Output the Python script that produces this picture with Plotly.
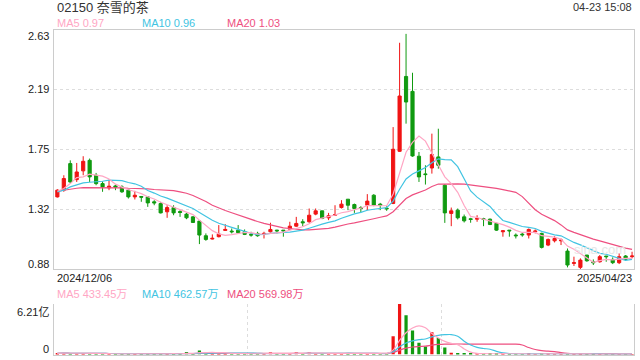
import numpy as np
import pandas as pd
import plotly.graph_objects as go

# ---------------- data ----------------
opens = [1.407,1.456,1.650,1.533,1.597,1.674,1.565,1.504,1.473,1.487,
         1.480,1.456,1.407,1.410,1.407,1.371,1.358,1.298,1.329,1.300,
         1.281,1.261,1.230,1.123,1.099,1.116,1.162,1.157,1.164,1.152,
         1.133,1.140,1.135,1.152,1.164,1.164,1.171,1.193,1.225,1.225,
         1.281,1.305,1.254,1.273,1.329,1.390,1.351,1.329,1.346,1.419,
         1.354,1.324,1.359,1.740,2.287,2.178,1.704,1.575,1.618,1.699,
         1.492,1.286,1.310,1.261,1.247,1.244,1.247,1.244,1.213,1.152,
         1.164,1.128,1.135,1.128,1.152,1.140,1.055,1.086,1.086,1.011,
         0.921,0.892,0.982,0.933,0.933,0.975,0.950,0.926,0.975,0.970]
highs = [1.463,1.565,1.674,1.655,1.704,1.687,1.582,1.521,1.533,1.497,
         1.492,1.461,1.451,1.412,1.412,1.383,1.371,1.346,1.346,1.310,
         1.290,1.266,1.230,1.140,1.133,1.201,1.208,1.176,1.201,1.169,
         1.152,1.152,1.152,1.218,1.166,1.164,1.225,1.261,1.244,1.322,
         1.322,1.305,1.290,1.346,1.383,1.390,1.358,1.339,1.427,1.427,
         1.363,1.339,1.917,2.533,2.598,2.314,1.735,1.638,1.869,1.905,
         1.500,1.329,1.322,1.278,1.254,1.273,1.254,1.249,1.218,1.164,
         1.164,1.140,1.145,1.176,1.169,1.145,1.103,1.120,1.103,1.030,
         0.970,0.958,0.982,0.950,0.982,0.975,0.965,0.994,0.982,1.006]
lows = [1.402,1.444,1.509,1.516,1.565,1.516,1.492,1.444,1.456,1.456,
        1.436,1.395,1.388,1.371,1.334,1.346,1.286,1.254,1.273,1.261,
        1.244,1.218,1.062,1.086,1.096,1.111,1.159,1.140,1.140,1.128,
        1.116,1.116,1.103,1.147,1.140,1.116,1.164,1.188,1.193,1.218,
        1.273,1.244,1.237,1.273,1.322,1.310,1.290,1.295,1.310,1.339,
        1.310,1.305,1.354,1.735,1.942,1.700,1.516,1.497,1.577,1.613,
        1.217,1.193,1.242,1.220,1.218,1.225,1.193,1.201,1.159,1.116,
        1.116,1.103,1.116,1.103,1.140,1.030,1.047,1.074,1.055,0.892,
        0.902,0.880,0.933,0.909,0.926,0.933,0.916,0.916,0.940,0.958]
closes = [1.456,1.541,1.516,1.589,1.667,1.553,1.504,1.480,1.485,1.478,
          1.444,1.407,1.419,1.405,1.363,1.363,1.290,1.329,1.290,1.293,
          1.254,1.220,1.128,1.096,1.104,1.135,1.169,1.152,1.145,1.133,
          1.128,1.123,1.140,1.169,1.159,1.159,1.193,1.213,1.218,1.273,
          1.305,1.249,1.269,1.278,1.354,1.346,1.322,1.322,1.376,1.346,
          1.346,1.320,1.755,2.144,2.100,1.706,1.553,1.570,1.716,1.638,
          1.290,1.305,1.254,1.232,1.242,1.249,1.242,1.205,1.164,1.159,
          1.159,1.123,1.130,1.169,1.157,1.038,1.096,1.103,1.091,0.909,
          0.926,0.945,0.940,0.926,0.970,0.970,0.926,0.970,0.950,0.975]
# volume in 万 (10k shares)
volumes_wan = [1500,1800,1300,1600,1400,1200,900,700,800,900,
               700,800,700,500,900,600,1300,1100,900,800,
               3000,1500,5000,1800,1400,1700,1200,600,900,1200,
               800,700,900,2500,600,700,1500,2800,900,2500,
               1300,1200,900,1500,1400,1800,1000,700,1700,1500,
               600,800,22300,62100,48300,29500,14400,9800,27400,20300,
               8500,2300,1800,1200,800,700,900,1000,1300,900,
               600,500,400,800,400,1300,700,500,450,1124,
               600,700,450,300,408.45,350,400,600,380,437.25]
# moving-average values before a full window is available
ma5_head = [1.448,1.468,1.504,1.548]
ma10_head = [1.444,1.456,1.480,1.497,1.509,1.514,1.516,1.521,1.529]
ma20_head = [1.448,1.456,1.465,1.470,1.475,1.475,1.478,1.478,1.478,1.475,
             1.473,1.470,1.470,1.468,1.465,1.461,1.458,1.456,1.453]
price_ticks = [0.88, 1.3175, 1.755, 2.1925, 2.63]
price_tick_text = ["0.88", "1.32", "1.75", "2.19", "2.63"]
vol_max_yi = 6.21
start_label, end_label = "2024/12/06", "2025/04/23"
title = "02150 奈雪的茶"
timestamp = "04-23 15:08"
legend_price = ["MA5 0.97", "MA10 0.96", "MA20 1.03"]
legend_vol = ["MA5 433.45万", "MA10 462.57万", "MA20 569.98万"]

# ---------------- derived ----------------
idx = list(range(len(closes)))
cs = pd.Series(closes)
def ma(n, head):
    m = cs.rolling(n).mean().tolist()
    m[:n-1] = head
    return m
ma5, ma10, ma20 = ma(5, ma5_head), ma(10, ma10_head), ma(20, ma20_head)
vol_yi = [v / 10000 for v in volumes_wan]
vs = pd.Series(vol_yi)
vma5 = vs.rolling(5, min_periods=1).mean().tolist()
vma10 = vs.rolling(10, min_periods=1).mean().tolist()
vma20 = vs.rolling(20, min_periods=1).mean().tolist()

RED = "#f01414"
GREEN = "#109a10"
C5 = "#ffa6c4"
C10 = "#42c4e2"
C20 = "#ee4f80"
BORDER = "#cccccc"
FONT = "Liberation Sans, Arial, Noto Sans CJK SC, sans-serif"

vol_colors = [RED if c >= o else GREEN for o, c in zip(opens, closes)]

fig = go.Figure()
fig.add_trace(go.Candlestick(
    x=idx, open=opens, high=highs, low=lows, close=closes,
    increasing=dict(line=dict(color=RED, width=1), fillcolor=RED),
    decreasing=dict(line=dict(color=GREEN, width=1), fillcolor=GREEN),
    whiskerwidth=0, xaxis="x", yaxis="y", showlegend=False))
for m, c in [(ma20, C20), (ma10, C10), (ma5, C5)]:
    fig.add_trace(go.Scatter(x=idx, y=m, mode="lines", line=dict(color=c, width=1.2),
                             xaxis="x", yaxis="y", showlegend=False))
fig.add_trace(go.Bar(x=idx, y=vol_yi, marker=dict(color=vol_colors, line=dict(width=0)),
                     width=0.5, xaxis="x2", yaxis="y2", showlegend=False))
for m, c in [(vma20, C20), (vma10, C10), (vma5, C5)]:
    fig.add_trace(go.Scatter(x=idx, y=m, mode="lines", line=dict(color=c, width=1.2, shape="spline"),
                             xaxis="x2", yaxis="y2", showlegend=False))

W, H = 640, 360
xl, xr = 54 / W, 634 / W
xrange = [-0.52, 89.3]
fig.update_layout(
    width=W, height=H, margin=dict(l=0, r=0, t=0, b=0),
    paper_bgcolor="white", plot_bgcolor="white",
    font=dict(family=FONT, size=11, color="#222"),
    xaxis=dict(domain=[xl, xr], range=xrange, showgrid=False, zeroline=False,
               showticklabels=False, showline=True, mirror=True, linecolor=BORDER,
               linewidth=1, rangeslider=dict(visible=False), fixedrange=True),
    yaxis=dict(domain=[1 - 269 / H, 1 - 29.5 / H], range=[price_ticks[0], price_ticks[-1]],
               tickvals=price_ticks[1:-1], showticklabels=False, showgrid=True,
               gridcolor="#dddddd", griddash="dot", gridwidth=1, zeroline=False,
               showline=True, mirror=True, linecolor=BORDER, linewidth=1),
    xaxis2=dict(domain=[xl, xr], range=xrange, anchor="y2", tickvals=[29.5, 59.5],
                showticklabels=False, showgrid=True, gridcolor="#dddddd", griddash="dot",
                zeroline=False, showline=True, linecolor=BORDER, linewidth=1),
    yaxis2=dict(domain=[1 - 354.5 / H, 1 - 304 / H], range=[0, vol_max_yi], anchor="x2",
                tickvals=[vol_max_yi], showticklabels=False, showgrid=True,
                gridcolor="#dddddd", griddash="dot", zeroline=False,
                showline=True, mirror=True, linecolor=BORDER, linewidth=1),
    bargap=0.3,
)

ann = []
def px(x): return x / W
def py(y): return 1 - y / H
ann.append(dict(x=px(55), y=py(7), text=title, xanchor="left", yanchor="middle",
                font=dict(size=13, color="#333")))
ann.append(dict(x=px(634), y=py(7), text=timestamp, xanchor="right", yanchor="middle",
                font=dict(size=11, color="#333")))
for t, x, c in zip(legend_price, [55, 140, 225], [C5, C10, C20]):
    ann.append(dict(x=px(x), y=py(23), text=t, xanchor="left", yanchor="middle",
                    font=dict(size=11, color=c)))
for t, x, c in zip(legend_vol, [55, 140, 225], [C5, C10, C20]):
    ann.append(dict(x=px(x), y=py(294), text=t, xanchor="left", yanchor="middle",
                    font=dict(size=11, color=c)))
ann.append(dict(x=px(55), y=py(278), text=start_label, xanchor="left", yanchor="middle",
                font=dict(size=11, color="#222")))
ann.append(dict(x=px(634), y=py(278), text=end_label, xanchor="right", yanchor="middle",
                font=dict(size=11, color="#222")))
shifts = [5, 0, 0, 0, -6]
for v, t, s in zip(price_ticks, price_tick_text, shifts):
    ann.append(dict(x=px(51), xref="paper", y=v, yref="y", text=t, xanchor="right",
                    yanchor="middle", yshift=s, font=dict(size=11, color="#222")))
ann.append(dict(x=px(51), xref="paper", y=vol_max_yi, yref="y2", text="6.21亿", xanchor="right",
                yanchor="middle", yshift=-8, font=dict(size=11, color="#222")))
ann.append(dict(x=px(51), xref="paper", y=0, yref="y2", text="0", xanchor="right",
                yanchor="middle", yshift=6, font=dict(size=11, color="#222")))
ann.append(dict(x=px(600), y=py(249), text="sina.com", xanchor="center", yanchor="middle",
                font=dict(size=13, color="#e6e6e6")))
for a in ann:
    a.setdefault("xref", "paper")
    a.setdefault("yref", "paper")
    a["showarrow"] = False
fig.update_layout(annotations=ann)

fig.write_html("out.html")
